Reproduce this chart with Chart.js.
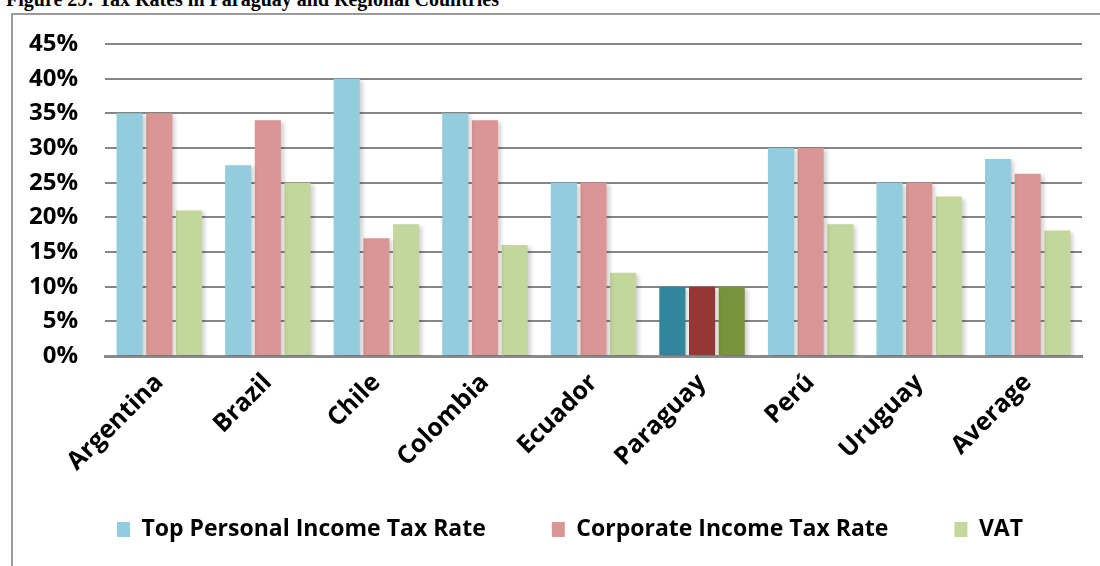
<!DOCTYPE html>
<html>
<head>
<meta charset="utf-8">
<script src="https://cdn.jsdelivr.net/npm/chart.js@4.4.1/dist/chart.umd.min.js"></script>
<style>
  html, body { margin: 0; padding: 0; background: #fff; width: 1100px; height: 566px; overflow: hidden; }
  #title {
    position: absolute; left: 6px; top: -12px;
    font-family: "Liberation Serif", serif; font-weight: bold; font-size: 20px;
    white-space: nowrap; color: #000;
  }
  #frame {
    position: absolute; left: 11px; top: 13px; width: 1200px; height: 700px;
    border-left: 2px solid #9a9a9a; border-top: 2px solid #9a9a9a;
  }
  #wrap { position: absolute; left: 0; top: 0; width: 1100px; height: 566px; }
</style>
</head>
<body>
<div id="title">Figure 29: Tax Rates in Paraguay and Regional Countries</div>
<div id="frame"></div>
<div id="wrap"><canvas id="tax-chart" width="1100" height="566"></canvas></div>
<script>
// values (percent)
const categories = ["Argentina", "Brazil", "Chile", "Colombia", "Ecuador", "Paraguay", "Perú", "Uruguay", "Average"];
const topPersonalRate = [35, 27.5, 40, 35, 25, 10, 30, 25, 28.4];
const corporateRate = [35, 34, 17, 34, 25, 10, 30, 25, 26.3];
const vatRate = [21, 25, 19, 16, 12, 10, 19, 23, 18.1];
const yTicks = [0, 5, 10, 15, 20, 25, 30, 35, 40, 45];

const highlight = "Paraguay";
function barColors(base, strong) {
  return categories.map((c) => (c === highlight ? strong : base));
}

const sans = "'Open Sans', Lato, sans-serif";
const legendPad = 66;

// soft shadow behind the bars, like the office chart
const barShadow = {
  id: "barShadow",
  beforeDatasetsDraw(chart) {
    const ctx = chart.ctx;
    ctx.save();
    ctx.shadowColor = "rgba(0,0,0,0.18)";
    ctx.shadowBlur = 4;
    ctx.shadowOffsetX = 3;
    ctx.shadowOffsetY = 2;
  },
  afterDatasetsDraw(chart) {
    chart.ctx.restore();
  },
};

// legend: one row with wide gaps, starting near the left edge
const legendPlace = {
  id: "legendPlace",
  beforeLayout(chart) {
    const lg = chart.legend;
    if (lg && !lg._fixed) {
      const fit = lg.fit;
      lg.fit = function () {
        this.maxWidth = 1100;
        fit.call(this);
        this.height = 92;
      };
      lg._fixed = true;
    }
  },
  afterLayout(chart) {
    const lg = chart.legend;
    lg.left -= 54;
    lg.right = 1200;
    lg.width = lg.right - lg.left;
    lg.top -= 22;
    lg.bottom -= 22;
  },
};

new Chart(document.getElementById("tax-chart"), {
  type: "bar",
  data: {
    labels: categories,
    datasets: [
      {
        label: "Top Personal Income Tax Rate",
        data: topPersonalRate,
        backgroundColor: barColors("#93cddd", "#31859c"),
      },
      {
        label: "Corporate Income Tax Rate",
        data: corporateRate,
        backgroundColor: barColors("#d99694", "#953735"),
      },
      {
        label: "VAT",
        data: vatRate,
        backgroundColor: barColors("#c3d69b", "#77933c"),
      },
    ],
  },
  options: {
    responsive: false,
    animation: false,
    categoryPercentage: 0.82,
    barPercentage: 0.88,
    layout: { padding: { top: 44, right: 18, bottom: 0, left: 0 } },
    scales: {
      x: {
        grid: { display: false },
        border: { display: true, color: "#8a8a8a", width: 3 },
        ticks: {
          color: "#000",
          font: { family: sans, weight: "bold", size: 25 },
          minRotation: 45,
          maxRotation: 45,
          padding: 4,
        },
        afterFit(scale) {
          scale.height = 118;
        },
      },
      y: {
        min: 0,
        max: 45,
        afterBuildTicks(scale) {
          scale.ticks = yTicks.map((v) => ({ value: v }));
        },
        grid: { color: "#868686", lineWidth: 2, drawTicks: false },
        border: { display: false },
        ticks: {
          color: "#000",
          font: { family: sans, weight: "bold", size: 24 },
          padding: 27,
          callback: (v) => v + "%",
        },
        afterFit(scale) {
          scale.width = 105;
        },
      },
    },
    plugins: {
      legend: {
        position: "bottom",
        align: "start",
        fullSize: false,
        labels: {
          color: "#000",
          font: { family: sans, weight: "bold", size: 23 },
          boxWidth: 13,
          boxHeight: 15,
          padding: legendPad,
        },
      },
      tooltip: { enabled: false },
    },
  },
  plugins: [barShadow, legendPlace],
});
</script>
</body>
</html>
